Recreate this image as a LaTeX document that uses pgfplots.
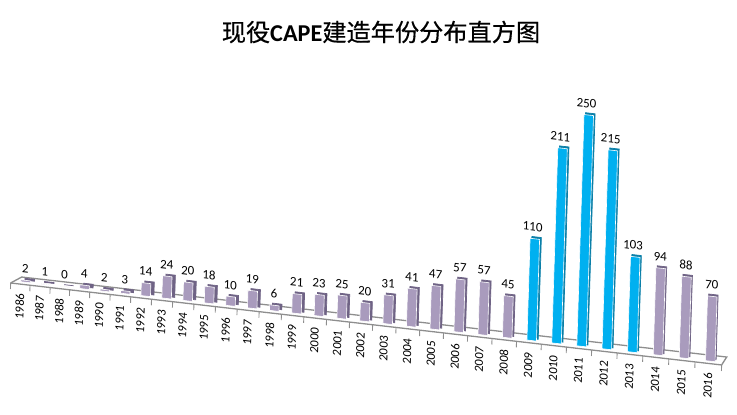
\documentclass[border=0pt]{standalone}
\usepackage{pgfplots}
\usepackage{pgfplotstable}
\pgfplotsset{compat=1.18}
\usepackage{fontspec}
\setmainfont{Carlito}
\newfontfamily\cjk[FakeBold=0.5]{Noto Sans CJK SC}
\definecolor{pf}{HTML}{A99BBD}
\definecolor{ps}{HTML}{6F6385}
\definecolor{bf}{HTML}{00B0F0}
\definecolor{bs}{HTML}{0A7FA8}
\definecolor{fl}{HTML}{8E8E8E}
\pgfplotstableread{
pos back val
14.9 18.9 2
34.5 38.4 1
54.2 58.0 0
73.9 77.6 4
94.1 97.7 2
114.5 118.0 3
135.0 138.4 14
155.9 159.2 24
177.0 180.2 20
198.3 201.4 18
219.8 222.8 10
241.5 244.4 19
263.5 266.3 6
285.8 288.5 21
308.2 310.8 23
331.0 333.5 25
353.9 356.3 20
377.0 379.3 31
400.5 402.7 41
424.1 426.2 47
448.0 450.0 57
472.1 474.0 57
496.5 498.3 45
}\purpledataA
\pgfplotstableread{
pos back val
521.0 522.7 110
545.8 547.4 211
570.9 572.4 250
596.1 597.5 215
621.6 622.9 103
}\bluedata
\pgfplotstableread{
pos back val
647.3 648.5 94
673.3 674.4 88
699.6 700.6 70
}\purpledataB
\pgfplotstableread{
c y year
9.7 -12.9 1986
29.45 -12.9 1987
49.25 -12.9 1988
69.05 -12.9 1989
89.3 -12.9 1990
109.8 -12.9 1991
130.5 -12.9 1992
151.45 -12.9 1993
172.65 -12.9 1994
194.05 -12.9 1995
215.65 -12.9 1996
237.5 -12.9 1997
259.65 -12.9 1998
282 -12.9 1999
304.55 -12.9 2000
327.4 -12.9 2001
350.45 -12.9 2002
373.7 -12.9 2003
397.25 -12.9 2004
421 -12.9 2005
444.95 -12.9 2006
469.2 -12.9 2007
493.7 -12.9 2008
518.3 -12.9 2009
543.25 -12.9 2010
568.4 -12.9 2011
593.75 -12.9 2012
619.35 -12.9 2013
645.2 -12.9 2014
671.3 -12.9 2015
697.7 -12.9 2016
}\yearlabels
\pgfplotsset{
  vallabel/.style={nodes near coords,
    every node near coord/.append style={font=\fontsize{13}{14}\selectfont,inner sep=0pt,anchor=south,xshift=#1,yshift=7pt,text=black}},
}
\begin{document}
\begin{tikzpicture}[x=1pt,y=1pt]
\path[use as bounding box] (-10.7pt,-134.5pt) rectangle (726.3pt,280.5pt);
\node[anchor=center,font=\fontsize{24.2}{26}\selectfont] at (370.3pt,248.5pt) {{\cjk 现役}\textbf{CAPE}{\cjk 建造年份分布直方图}};
\begin{scope}[cm={1,-0.1153,0.031,1,(0,0)}]
\begin{axis}[
  at={(0pt,0pt)},anchor=origin,
  x=1pt,y=0.925pt,
  disabledatascaling,
  xmin=0,xmax=711,ymin=-2.7,ymax=260,
  clip=false,
  axis x line=bottom,axis y line=none,
  axis line style={draw=fl,line width=1.3pt,-},
  ytick=\empty,
  xtick={0,19.4,39.5,59,79.1,99.5,120.1,140.9,162,183.3,204.8,226.5,248.5,270.8,293.2,315.9,338.9,362,385.4,409.1,432.9,457,481.4,505.9,530.7,555.8,581,606.5,632.2,658.2,684.4,711},
  xticklabels={},
  tick align=outside,
  major tick length=6pt,
  x tick style={draw=fl,line width=0.9pt},
  /pgf/number format/assume math mode=true,
  ybar,bar width=9.5pt,
  every axis plot/.append style={bar shift=0pt},
]
% floor back edge
\addplot[sharp plot,no markers,draw=fl,line width=1.3pt,forget plot] coordinates {(0,-2.7) (10.84,5.1) (715.8,6.5) (711,-2.7)};
% depth faces
\addplot[fill=ps,draw=ps,line width=0.7pt,yshift=2pt] table[x=back,y=val] {\purpledataA};
\addplot[fill=bs,draw=bs,line width=0.7pt,yshift=2pt] table[x=back,y=val] {\bluedata};
\addplot[fill=ps,draw=ps,line width=0.7pt,yshift=2pt] table[x=back,y=val] {\purpledataB};
% year labels
\addplot[sharp plot,draw=none,no markers,point meta=explicit symbolic,nodes near coords,
  every node near coord/.append style={font=\fontsize{12.5}{13}\selectfont,inner sep=0pt,rotate=90,anchor=east,text=black}]
  table[x=c,y=y,meta=year] {\yearlabels};
% front faces
\addplot[fill=pf,draw=white,line width=0.6pt,vallabel=-0.8pt] table[x=pos,y=val] {\purpledataA};
\addplot[fill=bf,draw=white,line width=0.6pt,vallabel=-2.6pt] table[x=pos,y=val] {\bluedata};
\addplot[fill=pf,draw=white,line width=0.6pt,vallabel=-0.8pt] table[x=pos,y=val] {\purpledataB};
\end{axis}
\end{scope}
\end{tikzpicture}
\end{document}
